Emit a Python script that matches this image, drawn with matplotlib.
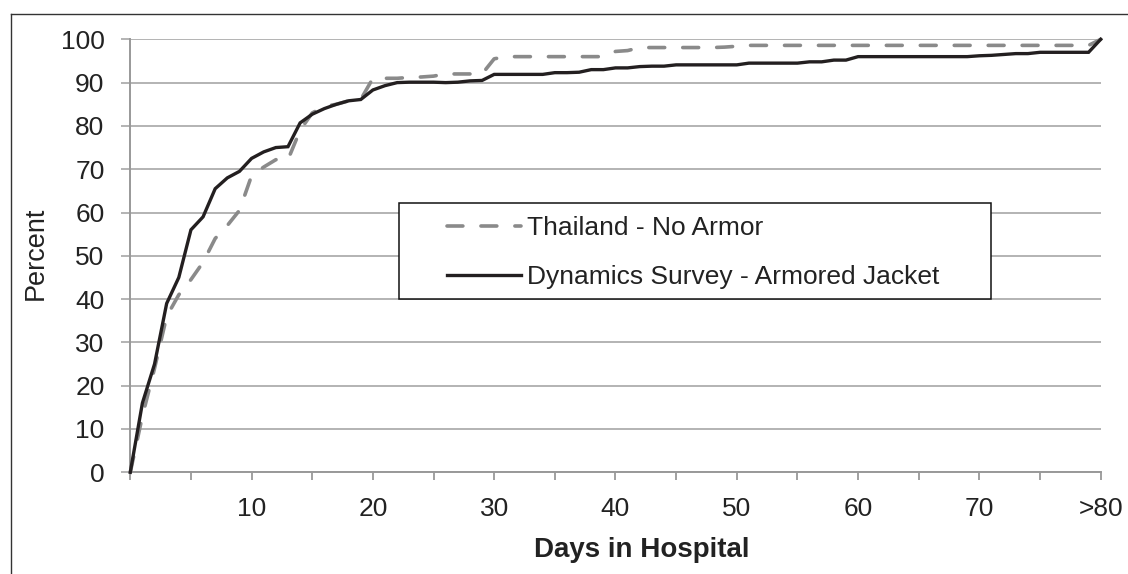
import numpy as np
import matplotlib
matplotlib.use('Agg')
import matplotlib.pyplot as plt
from matplotlib.lines import Line2D
from matplotlib.patches import Rectangle

plt.rcParams['font.family'] = ['Liberation Sans', 'DejaVu Sans']

# --- data ---
days = list(range(0, 81))

thailand = [0, 13, 24, 36, 41, 44.5, 48.5, 54, 57, 60.5,
            68.5, 70.5, 72.2, 72.2, 79, 83, 84.5, 85, 85.8, 86.1,
            91, 91, 91, 91.2, 91.3, 91.5, 92, 92, 92, 92,
            95.5, 96, 96, 96, 96, 96, 96, 96, 96, 96,
            97.2, 97.4, 98.1, 98.1, 98.1, 98.1, 98.1, 98.1, 98.1, 98.2,
            98.4, 98.6, 98.6, 98.6, 98.6, 98.6, 98.6, 98.6, 98.6, 98.6,
            98.6, 98.6, 98.6, 98.6, 98.6, 98.6, 98.6, 98.6, 98.6, 98.6,
            98.6, 98.6, 98.6, 98.6, 98.6, 98.6, 98.6, 98.6, 98.6, 98.6,
            100]

dynamics = [0, 16, 25, 39, 45, 56, 59, 65.5, 68, 69.5,
            72.5, 74, 75, 75.2, 80.7, 82.7, 84, 85, 85.8, 86.1,
            88.3, 89.3, 90, 90.1, 90.1, 90.1, 90, 90.1, 90.4, 90.5,
            91.9, 91.9, 91.9, 91.9, 91.9, 92.3, 92.3, 92.4, 93, 93,
            93.4, 93.4, 93.7, 93.8, 93.8, 94.1, 94.1, 94.1, 94.1, 94.1,
            94.1, 94.5, 94.5, 94.5, 94.5, 94.5, 94.8, 94.8, 95.2, 95.2,
            96, 96, 96, 96, 96, 96, 96, 96, 96, 96,
            96.2, 96.3, 96.5, 96.7, 96.7, 97, 97, 97, 97, 97,
            100]

xtick_major = [10, 20, 30, 40, 50, 60, 70, 80]
xtick_labels = ['10', '20', '30', '40', '50', '60', '70', '>80']
xtick_minor = [0, 5, 15, 25, 35, 45, 55, 65, 75]
yticks = list(range(0, 101, 10))

labels = ['Thailand - No Armor', 'Dynamics Survey - Armored Jacket']

text_color = '#222222'
grid_color = '#b3b3b3'
axis_color = '#999999'

fig = plt.figure(figsize=(11.28, 5.74), dpi=100)
ax = fig.add_axes([0.1155, 0.1772, 0.8603, 0.7543])

l1, = ax.plot(days, thailand, color='#8a8a8a', lw=2.6, ls=(0, (4.4, 5.0)),
              dash_capstyle='round', clip_on=False, zorder=3)
l2, = ax.plot(days, dynamics, color='#231f20', lw=2.4, solid_joinstyle='miter',
              clip_on=False, zorder=4)

ax.set_xlim(0, 80)
ax.set_ylim(0, 100)

ax.set_yticks(yticks)
ax.set_xticks(xtick_major)
ax.set_xticklabels(xtick_labels)
ax.set_xticks(xtick_minor, minor=True)

ax.yaxis.grid(True, color=grid_color, lw=1.4)
ax.set_axisbelow(True)

ax.tick_params(axis='y', direction='out', length=6.5, width=1.4, color=grid_color,
               pad=12, labelsize=19, labelcolor=text_color)
ax.tick_params(axis='x', which='both', direction='out', length=6, width=1.3,
               color=axis_color, pad=11.5, labelsize=19, labelcolor=text_color)

for s in ['top', 'right']:
    ax.spines[s].set_visible(False)
for s in ['left', 'bottom']:
    ax.spines[s].set_color(axis_color)
    ax.spines[s].set_linewidth(1.4)

ax.set_ylabel('Percent', fontsize=19.5, color=text_color)
ax.yaxis.set_label_coords(-0.084, 0.506)
ax.set_xlabel('Days in Hospital', fontsize=20, fontweight='bold', color=text_color)
ax.xaxis.set_label_coords(0.527, -0.150)

# legend box
ax.add_patch(Rectangle((0.277, 0.400), 0.610, 0.222, transform=ax.transAxes,
                       facecolor='white', edgecolor='#111111', lw=1.1, zorder=5))
leg = ax.legend([l1, l2], labels, loc='center left', bbox_to_anchor=(0.3264, 0.5076),
                frameon=False, fontsize=19, handlelength=2.8, handletextpad=0.23,
                labelspacing=0.95, borderpad=0, borderaxespad=0)
leg.set_zorder(6)
for t in leg.get_texts():
    t.set_color(text_color)

# outer chart frame (left and top edges visible)
fig.add_artist(Line2D([11 / 1128, 11 / 1128], [0, 1 - 14 / 574], color='#333333', lw=1.0))
fig.add_artist(Line2D([11 / 1128, 1], [1 - 14 / 574, 1 - 14 / 574], color='#333333', lw=1.0))

fig.savefig('out.png', dpi=100)
